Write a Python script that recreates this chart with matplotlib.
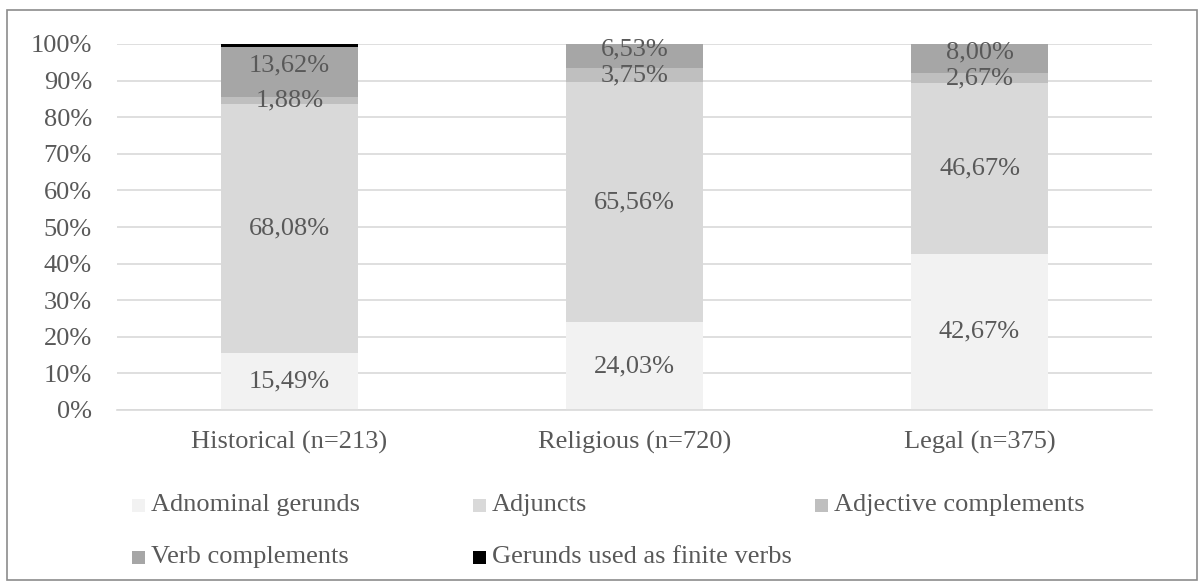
import matplotlib
matplotlib.use("Agg")
import matplotlib.pyplot as plt
import matplotlib.patches as mpatches
import numpy as np

plt.rcParams['font.family'] = ['Liberation Serif', 'DejaVu Serif']

# data
categories = ["Historical (n=213)", "Religious (n=720)", "Legal (n=375)"]
series = ["Adnominal gerunds", "Adjuncts", "Adjective complements",
          "Verb complements", "Gerunds used as finite verbs"]
adnominal = [15.49, 24.03, 42.67]
adjuncts = [68.08, 65.56, 46.67]
adjective = [1.88, 3.75, 2.67]
verb = [13.62, 6.53, 8.00]
finite = [0.93, 0.13, 0.0]
colors = ["#f2f2f2", "#d9d9d9", "#bfbfbf", "#a6a6a6", "#000000"]

values = [adnominal, adjuncts, adjective, verb, finite]
# labels of the top grey segment sit a little above centre in the original
label_shift = [0, 0, 0, 1.8, 0]
text_col = "#595959"
W, H = 1203, 583

fig = plt.figure(figsize=(W / 100, H / 100), dpi=100)
ax = fig.add_axes([117 / W, 1 - 410 / H, (1152 - 117) / W, 366 / H])

x = np.arange(len(categories))
bottom = np.zeros(len(categories))
for name, vals, c, sh in zip(series, values, colors, label_shift):
    vals = np.array(vals)
    ax.bar(x, vals, 0.397, bottom=bottom, color=c, label=name, zorder=2)
    if c != "#000000":
        for xi, b, v in zip(x, bottom, vals):
            lbl = f"{v:.2f}%".replace(".", ",")
            ax.text(xi, b + v / 2 + sh, lbl, ha="center", va="center",
                    fontsize=19, color=text_col, zorder=3)
    bottom += vals

ax.set_xlim(-0.5, 2.5)
ax.set_ylim(0, 100)
ax.set_yticks(np.arange(0, 101, 10))
ax.set_yticklabels([f"{v}%" for v in range(0, 101, 10)])
ax.set_xticks(x)
ax.set_xticklabels(categories)
ax.tick_params(axis="both", length=0, labelsize=19, colors=text_col)
ax.tick_params(axis="y", pad=18)
ax.tick_params(axis="x", pad=15)
ax.yaxis.grid(True, color="#d9d9d9", linewidth=1.2, zorder=0)
for s in ["top", "right", "left"]:
    ax.spines[s].set_visible(False)
ax.spines["bottom"].set_color("#d9d9d9")
ax.spines["bottom"].set_linewidth(1.2)

# legend, laid out in rows like the original
leg_x = [132, 473, 815]
leg_y = [505, 557]
for i, (name, c) in enumerate(zip(series, colors)):
    r, col = divmod(i, 3)
    px, py = leg_x[col], leg_y[r]
    sq = 13
    fig.patches.append(mpatches.Rectangle((px / W, 1 - (py + sq / 2) / H),
                                          sq / W, sq / H,
                                          transform=fig.transFigure,
                                          facecolor=c, edgecolor="none"))
    fig.text((px + sq + 6) / W, 1 - py / H, name, ha="left", va="center",
             fontsize=19, color=text_col)

# outer border
fig.patches.append(mpatches.Rectangle((7 / W, 3 / H), 1190 / W, 570 / H,
                                      transform=fig.transFigure, fill=False,
                                      edgecolor="#8c8c8c", linewidth=1.2))

fig.savefig("out.png", dpi=100)
